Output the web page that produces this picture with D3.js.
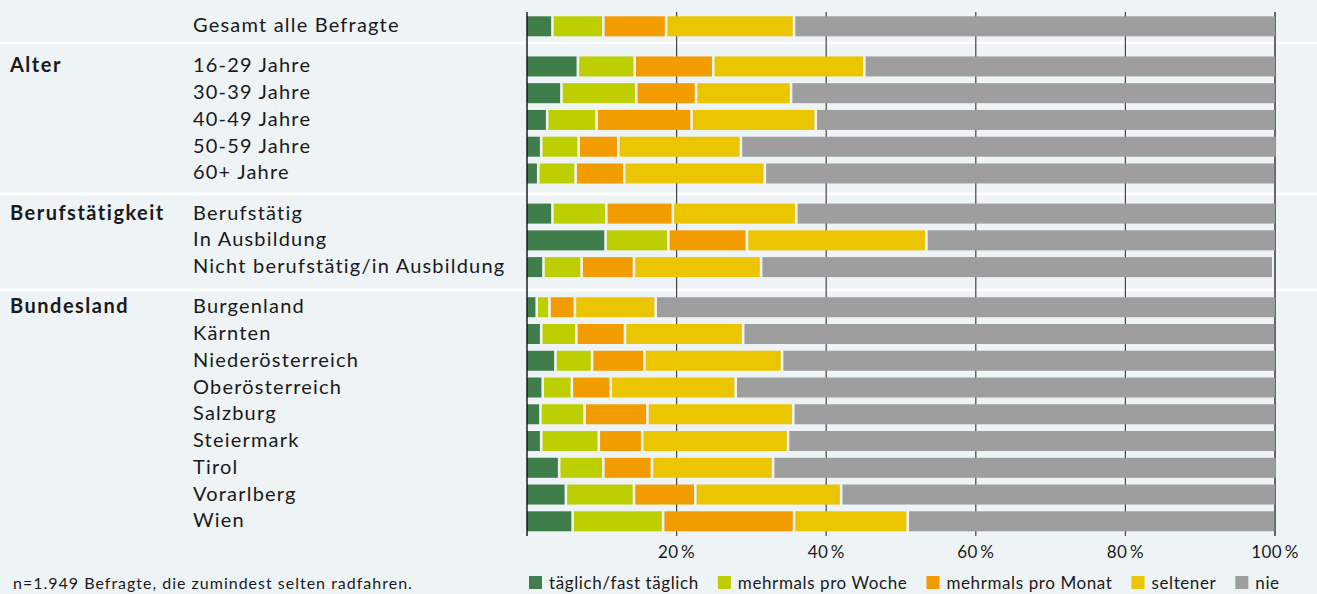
<!DOCTYPE html>
<html>
<head>
<meta charset="utf-8">
<script src="https://cdn.jsdelivr.net/npm/d3@7"></script>
<style>
  body { margin: 0; background: #eef3f6; }
  text { font-family: Lato, "Noto Sans", sans-serif; fill: #1a1a1a; }
</style>
</head>
<body>
<script>
// categories and the group each belongs to
var categories = ["Gesamt alle Befragte",
    "16-29 Jahre", "30-39 Jahre", "40-49 Jahre", "50-59 Jahre", "60+ Jahre",
    "Berufstätig", "In Ausbildung", "Nicht berufstätig/in Ausbildung",
    "Burgenland", "Kärnten", "Niederösterreich", "Oberösterreich", "Salzburg",
    "Steiermark", "Tirol", "Vorarlberg", "Wien"];
var groupOf = ["", "Alter", "Alter", "Alter", "Alter", "Alter",
    "Berufstätigkeit", "Berufstätigkeit", "Berufstätigkeit",
    "Bundesland", "Bundesland", "Bundesland", "Bundesland", "Bundesland",
    "Bundesland", "Bundesland", "Bundesland", "Bundesland"];

// shares in percent
var taeglich      = [3.4, 6.8, 4.6, 2.7, 1.9, 1.5, 3.4, 10.5, 2.2, 1.3, 1.9, 3.8, 2.1, 1.8, 1.9, 4.3, 5.2, 6.1];
var proWoche      = [6.8, 7.6, 10.0, 6.6, 5.0, 5.0, 7.2, 8.4, 5.1, 1.7, 4.7, 4.9, 3.9, 5.9, 7.7, 5.9, 9.1, 12.1];
var proMonat      = [8.4, 10.5, 8.0, 12.7, 5.3, 6.5, 8.9, 10.5, 7.0, 3.4, 6.5, 7.0, 5.2, 8.4, 5.8, 6.5, 8.2, 17.5];
var seltener      = [17.1, 20.2, 12.7, 16.6, 16.4, 18.8, 16.5, 24.0, 17.0, 10.8, 15.8, 18.4, 16.7, 19.5, 19.5, 16.2, 19.5, 15.2];
var nie           = [64.3, 54.9, 64.7, 61.4, 71.5, 68.1, 64.0, 46.6, 68.3, 82.8, 71.0, 65.9, 72.1, 64.4, 65.1, 67.2, 58.0, 49.0];

var seriesNames = ["täglich/fast täglich", "mehrmals pro Woche", "mehrmals pro Monat", "seltener", "nie"];
var seriesColors = ["#3f7d4a", "#bdcf00", "#f39c00", "#ebc500", "#9d9e9d"];
var tickValues = [20, 40, 60, 80, 100];
var note = "n=1.949 Befragte, die zumindest selten radfahren.";

var width = 1317, height = 594;
var barH = 20;

var svg = d3.select("body").append("svg").attr("width", width).attr("height", height);

// slot index per row, with an extra half step between groups
var slots = [];
var s = 0;
categories.forEach(function (c, i) {
    if (i > 0 && groupOf[i] != groupOf[i - 1]) s += 0.5;
    slots.push(s);
    s += 1;
});
var maxSlot = d3.max(slots);

var x = d3.scaleLinear().domain([0, 100]).range([527, 1275]);
var y = d3.scaleLinear().domain([0, maxSlot]).range([16.3, 511.3]);
// the group separators sit on a slightly different spacing
var ySep = d3.scaleLinear().domain([0, maxSlot]).range([1.8, 509.5]);

var rows = categories.map(function (c, i) {
    return { name: c, group: groupOf[i], slot: slots[i],
        values: [taeglich[i], proWoche[i], proMonat[i], seltener[i], nie[i]] };
});

// white separators between groups
rows.forEach(function (r, i) {
    if (i > 0 && r.group != rows[i - 1].group) {
        svg.append("rect").attr("x", 0).attr("y", ySep(r.slot) - 1.3)
            .attr("width", width).attr("height", 2.6).style("fill", "#ffffff");
    }
});

// gridlines
svg.append("g").selectAll("line").data(tickValues).enter().append("line")
    .attr("x1", function (d) { return x(d); }).attr("x2", function (d) { return x(d); })
    .attr("y1", 12).attr("y2", 536)
    .style("stroke", function (d) { return d == 100 ? "#666" : "#444"; })
    .style("stroke-width", function (d) { return d == 100 ? 2 : 1.2; });

// stacked bars
var gap = 1.3;
var rowG = svg.append("g").selectAll("g").data(rows).enter().append("g")
    .attr("transform", function (d) { return "translate(0," + y(d.slot) + ")"; });

rowG.selectAll("rect")
    .data(function (d) {
        var acc = 0;
        return d.values.map(function (v, k) {
            var seg = { k: k, x0: acc, x1: acc + v };
            acc += v;
            return seg;
        });
    })
    .enter().append("rect")
    .attr("x", function (d) { return d.k == 0 ? x(d.x0) : x(d.x0) + gap; })
    .attr("width", function (d) {
        var a = d.k == 0 ? x(d.x0) : x(d.x0) + gap;
        var b = d.k == 4 ? x(d.x1) : x(d.x1) - gap;
        return Math.max(0, b - a);
    })
    .attr("y", 0).attr("height", barH)
    .style("fill", function (d) { return seriesColors[d.k]; });

// category labels
rowG.append("text")
    .attr("x", 193).attr("y", barH / 2 + 6)
    .style("font-size", "20px").style("letter-spacing", "1.2px")
    .text(function (d) { return d.name; });

// group labels on first row of each group
rowG.filter(function (d, i) { return d.group != "" && (i == 0 || d.group != rows[i - 1].group); })
    .append("text")
    .attr("x", 10).attr("y", barH / 2 + 6)
    .style("font-size", "20px").style("font-weight", "bold").style("letter-spacing", "1.5px")
    .text(function (d) { return d.group; });

// y axis line
svg.append("line").attr("x1", 527).attr("x2", 527).attr("y1", 12).attr("y2", 536)
    .style("stroke", "#111").style("stroke-width", 1.4);

// tick labels
svg.append("g").selectAll("text").data(tickValues).enter().append("text")
    .attr("x", function (d) { return x(d); }).attr("y", 558)
    .attr("text-anchor", "middle")
    .style("font-size", "17px").style("letter-spacing", "0.4px")
    .text(function (d) { return d + "\u2009%"; });

// legend
var legend = svg.append("g").attr("transform", "translate(529,576)");
var lx = 0;
seriesNames.forEach(function (n, k) {
    var g = legend.append("g").attr("transform", "translate(" + lx + ",0)");
    g.append("rect").attr("width", 13).attr("height", 13).style("fill", seriesColors[k]);
    var t = g.append("text").attr("x", 20).attr("y", 12.5)
        .style("font-size", "17px").style("letter-spacing", "0.6px").text(n);
    lx += 20 + t.node().getComputedTextLength() + 19;
});

svg.append("text").attr("x", 13).attr("y", 589)
    .style("font-size", "16px").style("letter-spacing", "1px").text(note);
</script>
</body>
</html>
